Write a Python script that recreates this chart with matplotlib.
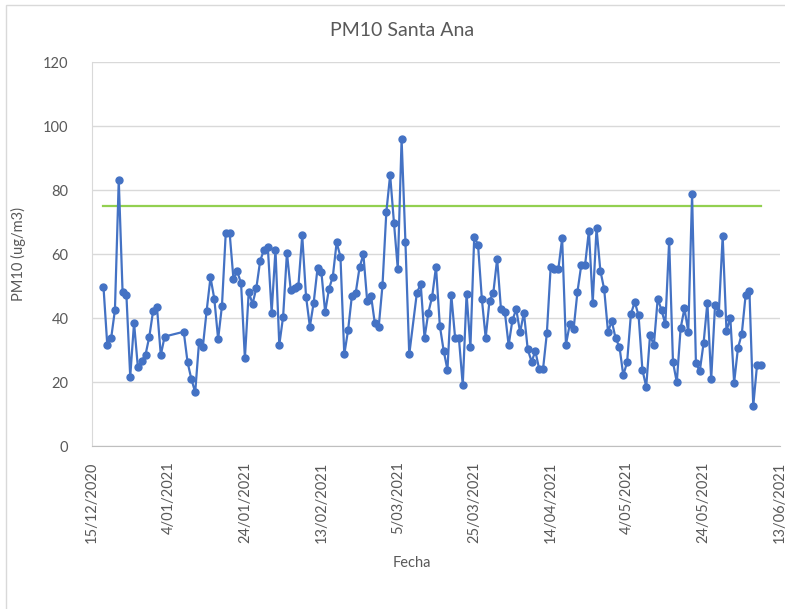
import matplotlib
matplotlib.use('Agg')
import matplotlib.pyplot as plt
import matplotlib.dates as mdates
from matplotlib.patches import Rectangle
from matplotlib.ticker import FuncFormatter, MultipleLocator
import pandas as pd

# daily sampling days, with the missing days left out
primer_dia = "2020-12-18"
ultimo_dia = "2021-06-08"
dias_sin_dato = ["2021-01-04", "2021-01-05", "2021-01-06", "2021-01-07",
                 "2021-03-09"]

pm10 = [49.8, 31.5, 33.6, 42.5, 83.1, 48.1, 47.2, 21.7, 38.5, 24.6,
        26.6, 28.5, 34.2, 42.3, 43.3, 28.4, 34.2,
        35.7, 26.2, 20.9, 16.8, 32.4, 31.0, 42.3, 52.7, 46.0, 33.4,
        43.8, 66.7, 66.7, 52.3, 54.6, 50.8, 27.4, 48.1, 44.4, 49.4,
        57.9, 61.3, 62.1, 41.7, 61.3, 31.6, 40.4, 60.4, 48.7, 49.3,
        50.1, 65.8, 46.7, 37.3, 44.8, 55.5, 54.5, 41.8, 49.1, 52.9,
        63.6, 59.2, 28.6, 36.2, 47.0, 47.9, 55.8, 59.9, 45.2, 47.0,
        38.3, 37.1, 50.2, 73.0, 84.7, 69.8, 55.4, 95.9, 63.8, 28.6,
        47.9, 50.6, 33.8, 41.7, 46.7, 56.0, 37.6, 29.8, 23.8, 47.2,
        33.8, 33.6, 19.0, 47.5, 30.8, 65.4, 62.8, 45.9, 33.8, 45.4,
        47.9, 58.5, 42.7, 42.0, 31.5, 39.4, 42.7, 35.5, 41.7, 30.2,
        26.4, 29.6, 24.0, 24.0, 35.2, 55.9, 55.4, 55.2, 64.9, 31.7,
        38.1, 36.5, 48.1, 56.5, 56.5, 67.3, 44.8, 68.0, 54.8, 49.0,
        35.7, 39.0, 33.6, 31.0, 22.1, 26.2, 41.3, 45.0, 40.8, 23.8,
        18.5, 34.6, 31.5, 46.0, 42.5, 38.0, 64.2, 26.2, 19.9, 36.8,
        43.0, 35.7, 78.6, 26.0, 23.3, 32.1, 44.8, 20.8, 44.0, 41.7,
        65.6, 36.0, 40.0, 19.8, 30.6, 35.0, 47.1, 48.5, 12.5, 25.4,
        25.4]
limite = 75

fechas = pd.date_range(primer_dia, ultimo_dia, freq="D")
fechas = fechas[~fechas.isin(pd.to_datetime(dias_sin_dato))]

plt.rcParams['font.family'] = ['Lato', 'DejaVu Sans']

fig = plt.figure(figsize=(7.85, 6.09), dpi=100)
W, H = 785, 609
ax = fig.add_axes([92 / W, 1 - 446 / H, 688 / W, 384 / H])

ax.plot(fechas, [limite] * len(fechas), color='#92D050', lw=1.6, zorder=2)
ax.plot(fechas, pm10, color='#4472C4', lw=1.6, marker='o', markersize=5,
        zorder=3)

ax.set_xlim(pd.Timestamp("2020-12-15"), pd.Timestamp("2021-06-13"))
ax.set_ylim(0, 120)
ax.yaxis.set_major_locator(MultipleLocator(20))
ax.xaxis.set_major_locator(mdates.DayLocator(interval=20))
ticks = pd.date_range("2020-12-15", "2021-06-13", freq="20D")
ax.set_xticks(ticks)
ax.xaxis.set_major_formatter(FuncFormatter(
    lambda v, p: "%d/%s" % (mdates.num2date(v).day,
                            mdates.num2date(v).strftime("%m/%Y"))))

ax.grid(axis='y', color='#D9D9D9', lw=1)
ax.set_axisbelow(True)
for s in ['top', 'right']:
    ax.spines[s].set_visible(False)
ax.spines['left'].set_color('#D9D9D9')
ax.spines['bottom'].set_color('#BFBFBF')
ax.tick_params(axis='both', length=0, labelsize=10.5, colors='#595959')
ax.tick_params(axis='y', pad=17)
ax.tick_params(axis='x', pad=11, labelrotation=90)

ax.set_ylabel("PM10 (ug/m3)", fontsize=10.5, color='#595959', labelpad=12)
fig.text(412 / W, 1 - 563 / H, "Fecha", ha='center', va='center',
         fontsize=10.5, color='#595959')
fig.text(402 / W, 1 - 30 / H, "PM10 Santa Ana", ha='center', va='center',
         fontsize=14, color='#595959')

fig.patches.append(Rectangle((6 / W, -0.1), 1.2, 1 - 5 / H + 0.1,
                             transform=fig.transFigure, fill=False,
                             edgecolor='#D9D9D9', lw=1))

fig.savefig('out.png', dpi=100)
